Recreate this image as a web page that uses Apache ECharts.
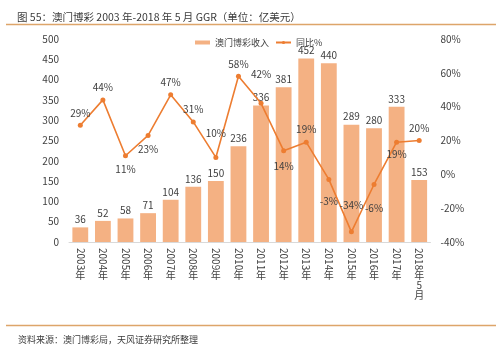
<!DOCTYPE html>
<html>
<head>
<meta charset="utf-8">
<script src="https://cdn.jsdelivr.net/npm/echarts@6/dist/echarts.min.js"></script>
<style>
  html, body { margin: 0; padding: 0; background: #fff; }
  #chart { width: 500px; height: 347px; }
</style>
</head>
<body>
<div id="chart"></div>
<script>
// Macau gaming GGR (100M USD) and year-on-year growth
const years = ['2003', '2004', '2005', '2006', '2007', '2008', '2009', '2010',
  '2011', '2012', '2013', '2014', '2015', '2016', '2017', '2018'];
const yearSuffix = ['年', '年', '年', '年', '年', '年', '年', '年',
  '年', '年', '年', '年', '年', '年', '年', '年\n5\n月'];
const revenue = [36, 52, 58, 71, 104, 136, 150, 236, 336, 381, 452, 440, 289, 280, 333, 153];
const growth = [29, 44, 11, 23, 47, 31, 10, 58, 42, 14, 19, -3, -34, -6, 19, 20];
const leftTicks = [0, 500, 50];
const rightTicks = [-40, 80, 20];

// where each growth label sits relative to its point: [position, distance]
const growthLabelPlace = [
  ['top', 5], ['top', 5], ['bottom', 6], ['bottom', 6], ['top', 5], ['top', 5],
  ['top', 17], ['top', 5], ['top', 22], ['bottom', 8], ['top', 5], ['bottom', 14],
  ['top', 19], ['bottom', 16], ['bottom', 5], ['top', 5]
];

const FONT = '"Noto Sans CJK SC", "Noto Sans", sans-serif';
const TEXT = '#404040';
const BAR = '#F4B183';
const LINE = '#ED7D31';
const RULE = '#DDA56A';

const chart = echarts.init(document.getElementById('chart'), null, { renderer: 'canvas' });

chart.setOption({
  animation: false,
  backgroundColor: '#fff',
  textStyle: { fontFamily: FONT },
  title: [
    {
      text: '图 55：澳门博彩 2003 年-2018 年 5 月 GGR（单位：亿美元）',
      left: 12, top: 7,
      textStyle: { fontFamily: FONT, fontSize: 10.5, fontWeight: 'normal', color: '#3a3a3a' }
    },
    {
      text: '资料来源：澳门博彩局，天风证券研究所整理',
      left: 13, top: 330,
      textStyle: { fontFamily: FONT, fontSize: 9, fontWeight: 'normal', color: '#3a3a3a' }
    }
  ],
  graphic: [
    { type: 'line', shape: { x1: 6, y1: 24.5, x2: 496, y2: 24.5 }, style: { stroke: RULE, lineWidth: 1.5 } },
    { type: 'line', shape: { x1: 6, y1: 325.5, x2: 496, y2: 325.5 }, style: { stroke: RULE, lineWidth: 1.5 } }
  ],
  legend: {
    top: 33, left: 190,
    itemWidth: 15, itemHeight: 4, itemGap: 6,
    textStyle: { fontFamily: FONT, fontSize: 9, color: TEXT },
    data: [
      { name: '澳门博彩收入', icon: 'rect' },
      { name: '同比%', itemStyle: { borderWidth: 0 } }
    ]
  },
  grid: { left: 69, right: 69.5, top: 39, bottom: 105 },
  xAxis: [
    {
      type: 'category',
      data: years,
      axisLine: { lineStyle: { color: '#d9d9d9', width: 1 } },
      axisTick: { show: false },
      axisLabel: { rotate: -90, margin: 6, fontSize: 10, color: TEXT, fontFamily: FONT, interval: 0 }
    },
    {
      type: 'category',
      position: 'bottom',
      data: yearSuffix,
      axisLine: { show: false },
      axisTick: { show: false },
      axisLabel: { margin: 28, fontSize: 10, lineHeight: 10, color: TEXT, fontFamily: FONT, interval: 0, verticalAlign: 'top' }
    }
  ],
  yAxis: [
    {
      type: 'value',
      min: leftTicks[0], max: leftTicks[1], interval: leftTicks[2],
      splitLine: { show: false },
      axisLine: { show: false },
      axisTick: { show: false },
      axisLabel: { margin: 10, fontSize: 10, color: TEXT, fontFamily: FONT }
    },
    {
      type: 'value',
      min: rightTicks[0], max: rightTicks[1], interval: rightTicks[2],
      splitLine: { show: false },
      axisLine: { show: false },
      axisTick: { show: false },
      axisLabel: { margin: 10, fontSize: 10, color: TEXT, fontFamily: FONT, formatter: '{value}%' }
    }
  ],
  series: [
    {
      name: '澳门博彩收入',
      type: 'bar',
      data: revenue,
      barWidth: '70%',
      itemStyle: { color: BAR },
      label: { show: true, position: 'top', distance: 3, fontSize: 10, color: TEXT, fontFamily: FONT }
    },
    {
      name: '同比%',
      type: 'line',
      yAxisIndex: 1,
      data: growth.map((v, i) => ({
        value: v,
        label: { position: growthLabelPlace[i][0], distance: growthLabelPlace[i][1] }
      })),
      symbol: 'circle',
      symbolSize: 5,
      lineStyle: { color: LINE, width: 1.6 },
      itemStyle: { color: LINE },
      label: { show: true, fontSize: 10, color: TEXT, fontFamily: FONT, formatter: '{c}%' },
      z: 3
    }
  ]
});
</script>
</body>
</html>
